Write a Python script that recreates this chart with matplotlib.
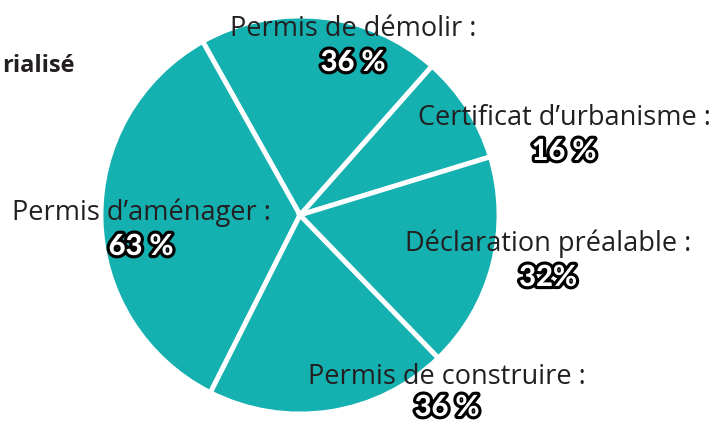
import matplotlib.pyplot as plt
from matplotlib import patheffects as pe

# share of dematerialised requests per procedure type
labels = ["Certificat d\u2019urbanisme :", "Permis de démolir :", "Permis d\u2019aménager :",
          "Permis de construire :", "Déclaration préalable :"]
values = [16, 36, 63, 36, 32]
pct_text = ["16 %", "36 %", "63 %", "36 %", "32%"]

# label anchor (pixel coords, y from top) and gap down to the percentage
label_pos = [(564, 118), (353, 29), (141, 213), (447, 377), (548, 244)]
pct_gap = [34, 34, 34, 31, 34]

W, H = 717, 423
fig = plt.figure(figsize=(W / 100, H / 100), dpi=100)
ax = fig.add_axes([0, 0, 1, 1])

teal = '#15b0b0'
ax.pie(values, colors=[teal] * len(values), startangle=17, counterclock=True,
       center=(300, H - 215), radius=199, frame=True,
       wedgeprops=dict(edgecolor='white', linewidth=3.5))
ax.set_xlim(0, W)
ax.set_ylim(0, H)
ax.set_aspect('equal')
ax.axis('off')

for lab, pct, (x, y), g in zip(labels, pct_text, label_pos, pct_gap):
    ax.text(x, H - y, lab, ha='center', va='center', fontsize=19.5,
            family='Open Sans', color='#231f20')
    ax.text(x, H - y - g, pct, ha='center', va='center', fontsize=21,
            family='Lato', fontweight='black', color='white',
            path_effects=[pe.withStroke(linewidth=4.5, foreground='black')])

ax.text(75, H - 66, "rialisé", ha='right', va='center', fontsize=17,
        family='Open Sans', fontweight='bold', color='#231f20')

fig.savefig('out.png', dpi=100)
